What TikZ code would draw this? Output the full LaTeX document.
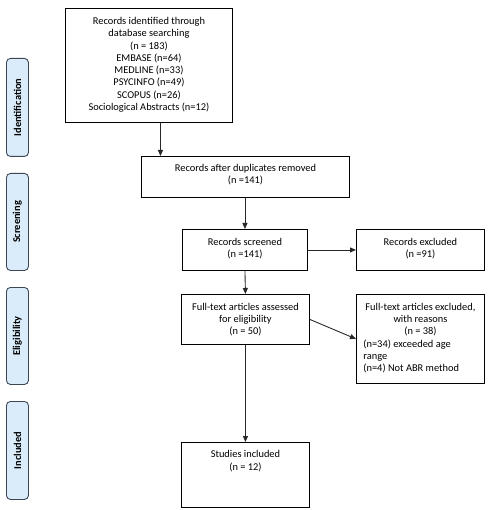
\documentclass[tikz,border=0pt]{standalone}
\usepackage{fontspec}
\setmainfont{Carlito}
\usetikzlibrary{arrows.meta}
\definecolor{phasefill}{RGB}{218,236,250}
\definecolor{phasedraw}{RGB}{60,70,85}
\definecolor{arrgray}{RGB}{40,40,40}
\newcommand{\boxcontent}[4]{\parbox[c][#2pt][t]{#1pt}{\vspace*{#3pt}\centering #4\par}}
\begin{document}
\begin{tikzpicture}[x=1pt,y=-1pt,
  every node/.style={font=\fontsize{10.4}{12.3}\selectfont},
  flowbox/.style={draw=black,line width=0.9pt,inner sep=0pt,anchor=north west},
  phase/.style={draw=phasedraw,fill=phasefill,line width=0.9pt,rounded corners=4pt,
     anchor=north west,inner sep=0pt,minimum width=22pt},
  phasetext/.style={rotate=90,font=\fontsize{10.4}{12}\selectfont\bfseries},
  arr/.style={draw=arrgray,line width=0.9pt,-{Triangle[length=6pt,width=5pt]}}]
\useasboundingbox (0,0) rectangle (491,510);

% phase labels
\node[phase,minimum height=98pt] (pid) at (6,58) {};
\node[phasetext] (tid) at (pid.center) {Identification};
\node[phase,minimum height=97pt] (pscr) at (6,173) {};
\node[phasetext] (tscr) at (pscr.center) {Screening};
\node[phase,minimum height=97pt] (pel) at (6,287) {};
\node[phasetext] (tel) at (pel.center) {Eligibility};
\node[phase,minimum height=98pt] (pinc) at (6,401) {};
\node[phasetext] (tinc) at (pinc.center) {Included};

% flow boxes
\node[flowbox] (ident) at (65,8) {\boxcontent{167}{114}{8.8}{Records identified through\\ database searching\\ (n = 183)\\ EMBASE (n=64)\\ MEDLINE (n=33)\\ PSYCINFO (n=49)\\ SCOPUS (n=26)\\ Sociological Abstracts (n=12)}};
\node[flowbox] (dup) at (141,156) {\boxcontent{208}{41}{7.8}{Records after duplicates removed\\ (n =141)}};
\node[flowbox] (scr) at (182,229) {\boxcontent{125}{41}{8.5}{Records screened\\ (n =141)}};
\node[flowbox] (exc) at (356,229) {\boxcontent{128}{41}{8.5}{Records excluded\\ (n =91)}};
\node[flowbox] (full) at (181,294) {\boxcontent{128}{50}{8.5}{Full-text articles assessed\\ for eligibility\\ (n = 50)}};
\node[flowbox] (fexc) at (356,294) {\parbox[c][89pt][t]{128pt}{\vspace*{8.5pt}\centering Full-text articles excluded,\\ with reasons\\ (n = 38)\par\raggedright\leftskip=7pt (n=34) exceeded age\\ range\\ (n=4) Not ABR method\par}};
\node[flowbox] (inc) at (181,442) {\boxcontent{128}{65}{8.1}{Studies included\\ (n = 12)}};

% connectors
\draw[arr] ([xshift=11.5pt]ident.south) -- ([xshift=11.5pt]ident.south |- dup.north);
\draw[arr] (dup.south -| scr.north) -- (scr.north);
\draw[arr] (scr.east) -- (exc.west);
\draw[arr] (scr.south) -- (full.north);
\draw[arr] (full.east) -- (fexc.west);
\draw[arr] (full.south) -- (inc.north);
\end{tikzpicture}
\end{document}
